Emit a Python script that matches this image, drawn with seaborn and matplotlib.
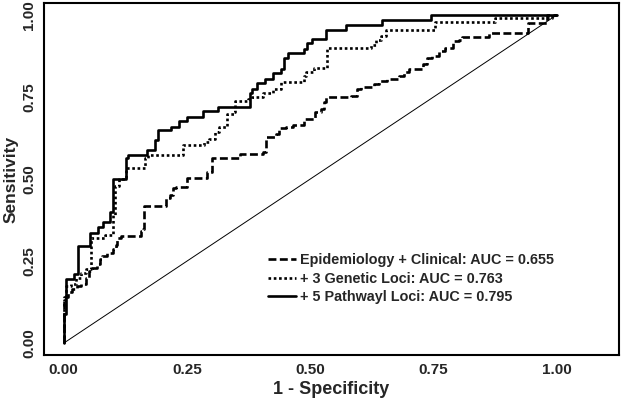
import pandas as pd
import seaborn as sns
import matplotlib.pyplot as plt

# ROC points: false positive rate where each rise happens, sensitivity after the rise
epi_fpr = [0, 0.001, 0.008, 0.017, 0.027, 0.036, 0.046, 0.052, 0.058, 0.068, 0.074, 0.077,
           0.087, 0.10, 0.106, 0.109, 0.116, 0.157, 0.16, 0.163, 0.208, 0.215, 0.221, 0.227,
           0.25, 0.291, 0.30, 0.358, 0.405, 0.411, 0.43, 0.437, 0.45, 0.465, 0.488, 0.51,
           0.522, 0.529, 0.532, 0.583, 0.596, 0.603, 0.63, 0.64, 0.656, 0.68, 0.69, 0.70,
           0.729, 0.738, 0.748, 0.761, 0.773, 0.789, 0.802, 0.808, 0.862, 0.942, 0.98, 1.0]
epi_tpr = [0, 0.14, 0.155, 0.165, 0.175, 0.18, 0.20, 0.22, 0.23, 0.24, 0.256, 0.266,
           0.276, 0.286, 0.30, 0.32, 0.326, 0.341, 0.347, 0.417, 0.442, 0.452, 0.472, 0.477,
           0.502, 0.523, 0.563, 0.578, 0.583, 0.628, 0.636, 0.656, 0.66, 0.664, 0.684, 0.704,
           0.714, 0.734, 0.75, 0.754, 0.774, 0.78, 0.789, 0.80, 0.805, 0.815, 0.825, 0.835,
           0.85, 0.87, 0.875, 0.89, 0.90, 0.92, 0.925, 0.933, 0.946, 0.976, 1.0, 1.0]

gen_fpr = [0, 0, 0.005, 0.015, 0.025, 0.035, 0.045, 0.056, 0.084, 0.10, 0.105, 0.112,
           0.126, 0.164, 0.172, 0.243, 0.284, 0.294, 0.307, 0.316, 0.332, 0.345, 0.348,
           0.373, 0.383, 0.405, 0.424, 0.44, 0.488, 0.492, 0.507, 0.535, 0.624, 0.634,
           0.643, 0.653, 0.754, 0.875, 0.99, 1.0]
gen_tpr = [0, 0.13, 0.175, 0.18, 0.20, 0.215, 0.225, 0.32, 0.33, 0.39, 0.48, 0.50,
           0.533, 0.563, 0.573, 0.603, 0.613, 0.623, 0.644, 0.659, 0.699, 0.704, 0.739,
           0.744, 0.749, 0.764, 0.774, 0.795, 0.815, 0.825, 0.84, 0.90, 0.91, 0.925,
           0.935, 0.956, 0.98, 0.99, 1.0, 1.0]

path_fpr = [0, 0, 0.005, 0.021, 0.03, 0.053, 0.069, 0.08, 0.094, 0.10, 0.126, 0.13, 0.17,
            0.186, 0.192, 0.218, 0.234, 0.251, 0.283, 0.313, 0.377, 0.383, 0.392, 0.408,
            0.424, 0.44, 0.446, 0.456, 0.488, 0.494, 0.503, 0.532, 0.573, 0.646, 0.745, 1.0]
path_tpr = [0, 0.09, 0.195, 0.21, 0.295, 0.335, 0.355, 0.37, 0.40, 0.50, 0.565, 0.573, 0.588,
            0.619, 0.649, 0.66, 0.678, 0.69, 0.707, 0.72, 0.761, 0.776, 0.792, 0.805,
            0.822, 0.837, 0.868, 0.883, 0.898, 0.914, 0.926, 0.954, 0.97, 0.985, 1.0, 1.0]

labels = ["Epidemiology + Clinical: AUC = 0.655",
          "+ 3 Genetic Loci: AUC = 0.763",
          "+ 5 Pathwayl Loci: AUC = 0.795"]
ticks = [0, 0.25, 0.5, 0.75, 1.0]

sns.set_style("white")
plt.rcParams['font.family'] = ['Liberation Sans', 'DejaVu Sans']
plt.rcParams['font.weight'] = 'bold'

fig = plt.figure(figsize=(6.24, 4.08), dpi=100)
ax = fig.add_axes([0.0705, 0.13, 0.921, 0.862])

# reference diagonal
ax.plot([0, 1], [0, 1], color="black", linewidth=0.7)

styles = [(0, (3.0, 1.3)), (0, (1.0, 1.0)), "-"]
curves = [(epi_fpr, epi_tpr), (gen_fpr, gen_tpr), (path_fpr, path_tpr)]
for (fpr, tpr), lab, ls in zip(curves, labels, styles):
    df = pd.DataFrame({"fpr": fpr, "tpr": tpr})
    sns.lineplot(data=df, x="fpr", y="tpr", estimator=None, sort=False,
                 drawstyle="steps-post", color="black", linewidth=1.9,
                 linestyle=ls, label=lab, ax=ax)

ax.set(xlim=(-0.04, 1.126), ylim=(-0.036, 1.036))
ax.set_xticks(ticks)
ax.set_yticks(ticks)
ax.set_xticklabels([f"{t:.2f}" for t in ticks], fontsize=11, fontweight="bold")
ax.set_yticklabels([f"{t:.2f}" for t in ticks], fontsize=11, fontweight="bold",
                   rotation=90, va="center")
ax.tick_params(direction="out", length=4, width=0.8, color="black", pad=1.5)
ax.set_xlabel("1 - Specificity", fontsize=13, fontweight="bold", labelpad=3)
ax.set_ylabel("Sensitivity", fontsize=12.5, fontweight="bold", labelpad=3)
for s in ax.spines.values():
    s.set_linewidth(1.5)
    s.set_color("black")

ax.legend(loc="upper left", bbox_to_anchor=(0.38, 0.305), frameon=False,
          handlelength=1.9, handletextpad=0.3, labelspacing=0.3,
          borderaxespad=0, prop={"size": 10.4, "weight": "bold"})

fig.savefig("out.png", dpi=100)
